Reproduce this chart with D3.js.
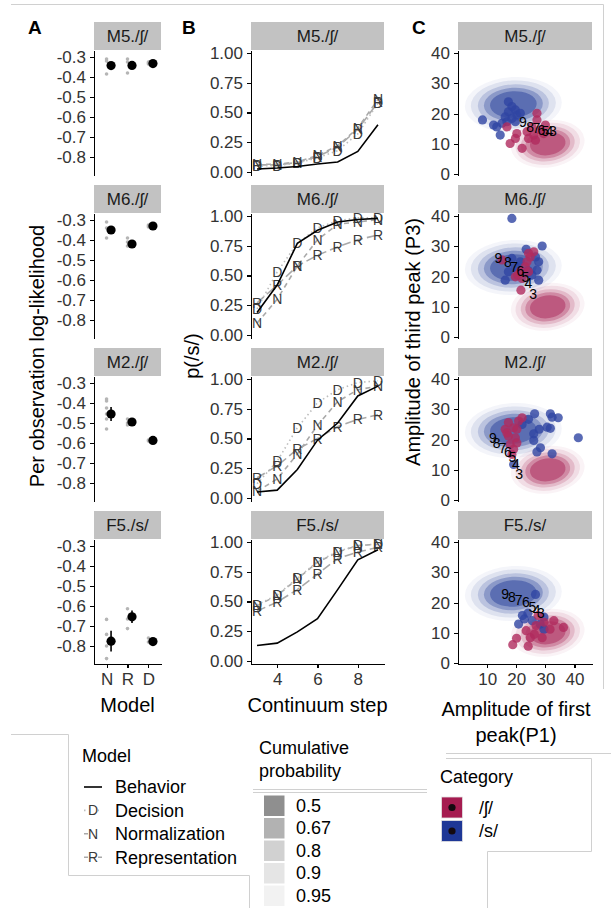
<!DOCTYPE html>
<meta charset="utf-8">
<title>Model comparison, categorization curves and cue distributions</title>
<style>
body{margin:0;background:#fff;}
svg text{font-family:'Liberation Sans',Arial,sans-serif;}
.axis path,.axis line{stroke:#000;stroke-width:1.1px;shape-rendering:crispEdges;}
.axis text{font-size:17px;fill:#333;}
.strip text{font-size:17px;fill:#1a1a1a;text-anchor:middle;}
.title{font-size:20px;fill:#000;text-anchor:middle;}
.tag{font-size:19px;font-weight:bold;fill:#000;}
.leg{font-size:18px;fill:#000;}
.frame{stroke:#d0d0d0;stroke-width:1;fill:none;}
</style>
<svg width="611" height="908"></svg>
<script src="https://d3js.org/d3.v7.min.js"></script>
<script>
var talkers = ["M5./ʃ/", "M6./ʃ/", "M2./ʃ/", "F5./s/"];
var models = ["N", "R", "D"];
var steps = [3, 4, 5, 6, 7, 8, 9];

// A: per observation log-likelihood (mean, se, per-subject values) in order N, R, D
var llMean = [[-0.343, -0.342, -0.333], [-0.35, -0.42, -0.33], [-0.455, -0.495, -0.587], [-0.776, -0.654, -0.778]];
var llSe = [[0.01, 0.01, 0.003], [0.012, 0.008, 0.003], [0.035, 0.008, 0.004], [0.052, 0.031, 0.006]];
var llSubj = [
  [[-0.31, -0.32, -0.385], [-0.31, -0.325, -0.38], [-0.325, -0.33, -0.335]],
  [[-0.31, -0.34, -0.39], [-0.39, -0.41, -0.43], [-0.325, -0.33, -0.335]],
  [[-0.38, -0.39, -0.425, -0.455, -0.48, -0.53], [-0.48, -0.5, -0.51], [-0.585, -0.59]],
  [[-0.667, -0.742, -0.8, -0.863], [-0.614, -0.665, -0.713], [-0.76, -0.78]]
];
var llTicks = [-0.3, -0.4, -0.5, -0.6, -0.7, -0.8];

// B: p(/s/) by continuum step
var behavior = [
  [0.025, 0.034, 0.047, 0.067, 0.084, 0.173, 0.397],
  [0.19, 0.42, 0.77, 0.88, 0.95, 0.97, 0.98],
  [0.05, 0.066, 0.24, 0.486, 0.63, 0.857, 0.94],
  [0.13, 0.15, 0.245, 0.355, 0.6, 0.85, 0.935]
];
var predD = [
  [0.05, 0.055, 0.075, 0.12, 0.18, 0.32, 0.58],
  [0.22, 0.53, 0.77, 0.9, 0.96, 0.985, 0.985],
  [0.12, 0.31, 0.59, 0.8, 0.91, 0.97, 0.985],
  [0.472, 0.555, 0.695, 0.835, 0.92, 0.972, 0.982]
];
var predN = [
  [0.065, 0.065, 0.085, 0.14, 0.22, 0.37, 0.61],
  [0.1, 0.3, 0.58, 0.8, 0.93, 0.95, 0.97],
  [0.057, 0.16, 0.37, 0.61, 0.81, 0.91, 0.94],
  [0.465, 0.55, 0.69, 0.83, 0.915, 0.97, 0.98]
];
var predR = [
  [0.06, 0.06, 0.08, 0.13, 0.21, 0.36, 0.585],
  [0.27, 0.42, 0.58, 0.67, 0.74, 0.8, 0.84],
  [0.17, 0.27, 0.41, 0.5, 0.6, 0.66, 0.7],
  [0.42, 0.495, 0.6, 0.73, 0.86, 0.915, 0.955]
];
var pTicks = [0, 0.25, 0.5, 0.75, 1];
var stepTicks = [4, 6, 8];

// C: talker productions (P1, P3) per category and the continuum steps 3..9
var ptsS = [
  [[8.4,17.9],[12.2,16.2],[13.3,15.6],[14.5,12.9],[17.3,23.9],[18.5,22.3],[17.3,20.6],[19.7,21.2],[20.2,19.5],[21.4,20.1],[16.2,18.9],[18.5,18.4],[16.8,17.3],[15.1,16.8],[19.7,17.3]],
  [[18.5,39.2],[28.9,30.1],[23.4,29],[16.2,18.8],[27.7,24.9],[27.1,22.1],[27.7,18.8],[25.4,20.5],[18.5,26],[19.7,23.2],[17.3,21.6],[21.4,24.9],[26.6,26.5],[24,22]],
  [[26.3,28.5],[31.7,28.5],[32.3,27.4],[34.4,27.2],[41.3,20.6],[24.2,26.7],[22,25],[27.9,23.4],[30.6,24.1],[31.7,23.7],[26,21.9],[26,19.7],[28.3,17.3],[27.1,15.9],[32.3,15.3],[19.1,11.8]],
  [[20.8,12.9],[22.8,14.6],[22.1,15.7],[25.5,14],[28.2,12.9],[29.5,15.2],[29.5,11.2],[26.6,22.7],[24,16.5]]
];
var ptsSh = [
  [[16.8,15.6],[20.2,13.4],[17.9,10.1],[22,8.5],[27.1,20.1],[23.7,14],[25.4,15.6],[27.1,17.9],[30,16.2],[26,12.9],[28.3,14.5],[24.2,11.8],[29.4,13.4],[26.6,11.2],[19.7,11.8]],
  [[26,28.2],[24.8,26.5],[23.7,24.9],[23.1,23.2],[21.4,21.6],[19.7,19.9],[22,19.4],[24.2,21.6],[21.6,15.5],[15.1,25.5],[24.2,27.7],[20.5,20.5]],
  [[17.3,25.6],[19.1,23.9],[16.2,23.4],[17.3,21.2],[20.8,26.1],[22,27.2],[19.7,20.6],[17.9,18.4],[20.2,18.9],[19.1,16.8],[16.8,22.2],[20.2,23.4],[18.5,15.1]],
  [[18.8,6.1],[20.1,8.2],[24.1,5.6],[23.4,10.7],[26.2,9.5],[28.9,8.4],[29.5,13.5],[32.9,14],[36.2,11.8],[26.8,12.4],[31.6,11.2],[27.5,15.7],[24.8,8.4]]
];
var stepPos = [
  [[32.6,14.3],[31.4,14.3],[30,14.3],[28.6,14.5],[26.9,15.1],[24.8,15.6],[22.3,17.3]],
  [[25.8,14.1],[24.2,17.8],[23.1,19.9],[21.4,21.9],[19.3,23.2],[17.1,24.9],[13.9,26]],
  [[21,8.5],[19.9,11.8],[18.7,14.2],[17.1,16],[15.3,17.3],[13.3,18.9],[12,20.6]],
  [[28.5,16.5],[27,17.5],[25.5,18.5],[23.3,20.3],[20.8,20.8],[18.5,21.9],[16.2,23]]
];
var categories = ["/ʃ/", "/s/"];
var catMean = [[30.8, 10], [19, 23]];
var catSd = [[5.2, 3.2], [6.8, 3.7]];
var catTilt = [-8, -3];
var cumProb = [0.5, 0.67, 0.8, 0.9, 0.95];
var cumAlpha = [0.44, 0.3, 0.18, 0.1, 0.05];
var ampTicksY = [0, 10, 20, 30, 40];
var ampTicksX = [10, 20, 30, 40];

var modelNames = ["Behavior", "Decision", "Normalization", "Representation"];

var svg = d3.select("svg");
var catColor = d3.scaleOrdinal().domain(categories).range(["#a51c50", "#1e3796"]);
var ptColor = d3.scaleOrdinal().domain(categories).range(["#b02a5e", "#2f45a2"]);
var alphaOf = d3.scaleOrdinal().domain(cumProb).range(cumAlpha);
var lineStyle = {
  D: {stroke: "#bdbdbd", dash: "1.5,3"},
  N: {stroke: "#a9a9a9", dash: "5,4"},
  R: {stroke: "#a9a9a9", dash: "9,4"}
};

var xA = d3.scalePoint().domain(models).range([94, 161]).padding(0.6);
var xB = d3.scaleLinear().domain([2.7, 9.3]).range([251, 384]);
var xC = d3.scaleLinear().domain([0, 46]).range([458, 592]);

function strip(x0, x1, top, label) {
  var g = svg.append("g").attr("class", "strip");
  g.append("rect").attr("x", x0).attr("y", top).attr("width", x1 - x0).attr("height", 28).attr("fill", "#c2c2c2");
  g.append("text").attr("x", (x0 + x1) / 2).attr("y", top + 14).attr("dy", "0.36em").text(label);
}

talkers.forEach(function(t, i) {
  var top = 22 + 163 * i, pTop = top + 28, pBot = pTop + 125;
  var last = i === talkers.length - 1;

  // ---- A
  var yA = d3.scaleLinear().domain([-0.89, -0.265]).range([pBot, pTop]);
  strip(94, 161, top, t);
  svg.append("g").attr("class", "axis").attr("transform", "translate(94,0)")
    .call(d3.axisLeft(yA).tickValues(llTicks).tickSize(4).tickPadding(4).tickSizeOuter(0)
      .tickFormat(function(d) { return d.toFixed(1); }));
  models.forEach(function(m, k) {
    svg.append("g").selectAll("circle").data(llSubj[i][k]).enter().append("circle")
      .attr("cx", xA(m)).attr("cy", function(d) { return yA(d); })
      .attr("r", 1.8).attr("fill", "#b5b5b5");
    svg.append("line")
      .attr("x1", xA(m) + 4.5).attr("x2", xA(m) + 4.5)
      .attr("y1", yA(llMean[i][k] - llSe[i][k])).attr("y2", yA(llMean[i][k] + llSe[i][k]))
      .attr("stroke", "#000").attr("stroke-width", 1.6);
    svg.append("circle").attr("cx", xA(m) + 4.5).attr("cy", yA(llMean[i][k]))
      .attr("r", 4.6).attr("fill", "#000");
  });
  if (last) {
    svg.append("g").attr("class", "axis").attr("transform", "translate(0," + pBot + ")")
      .call(d3.axisBottom(xA).tickSize(4).tickPadding(5).tickSizeOuter(0));
  }

  // ---- B
  var yB = d3.scaleLinear().domain([-0.025, 1.025]).range([pBot, pTop]);
  strip(251, 384, top, t);
  svg.append("g").attr("class", "axis").attr("transform", "translate(251,0)")
    .call(d3.axisLeft(yB).tickValues(pTicks).tickSize(4).tickPadding(4).tickSizeOuter(0)
      .tickFormat(function(d) { return d.toFixed(2); }));
  if (last) {
    svg.append("g").attr("class", "axis").attr("transform", "translate(0," + pBot + ")")
      .call(d3.axisBottom(xB).tickValues(stepTicks).tickSize(4).tickPadding(5).tickSizeOuter(0)
        .tickFormat(d3.format("d")));
  }
  var line = d3.line().x(function(d, j) { return xB(steps[j]); }).y(function(d) { return yB(d); });
  var preds = {D: predD[i], N: predN[i], R: predR[i]};
  ["R", "N", "D"].forEach(function(m) {
    svg.append("path").attr("d", line(preds[m])).attr("fill", "none")
      .attr("stroke", lineStyle[m].stroke).attr("stroke-width", 1.6)
      .attr("stroke-dasharray", lineStyle[m].dash);
  });
  ["R", "N", "D"].forEach(function(m) {
    svg.append("g").selectAll("text").data(preds[m]).enter().append("text")
      .attr("x", function(d, j) { return xB(steps[j]); })
      .attr("y", function(d) { return yB(d); })
      .attr("dy", "0.36em").attr("text-anchor", "middle")
      .attr("font-size", 14).attr("fill", "#3a3a3a").text(m);
  });
  svg.append("path").attr("d", line(behavior[i])).attr("fill", "none")
    .attr("stroke", "#000").attr("stroke-width", 1.6);

  // ---- C
  var yC = d3.scaleLinear().domain([-0.3, 41]).range([pBot, pTop]);
  strip(458, 592, top, t);
  svg.append("g").attr("class", "axis").attr("transform", "translate(458,0)")
    .call(d3.axisLeft(yC).tickValues(ampTicksY).tickSize(4).tickPadding(4).tickSizeOuter(0));
  if (last) {
    svg.append("g").attr("class", "axis").attr("transform", "translate(0," + pBot + ")")
      .call(d3.axisBottom(xC).tickValues(ampTicksX).tickSize(4).tickPadding(5).tickSizeOuter(0));
  }
  categories.forEach(function(c, k) {
    var cx = xC(catMean[k][0]), cy = yC(catMean[k][1]);
    cumProb.slice().reverse().forEach(function(p) {
      var r = Math.sqrt(-2 * Math.log(1 - p));
      svg.append("ellipse")
        .attr("cx", cx).attr("cy", cy)
        .attr("rx", xC(catMean[k][0] + r * catSd[k][0]) - cx)
        .attr("ry", cy - yC(catMean[k][1] + r * catSd[k][1]))
        .attr("transform", "rotate(" + catTilt[k] + "," + cx + "," + cy + ")")
        .attr("fill", catColor(c)).attr("fill-opacity", alphaOf(p));
    });
  });
  [[ptsS[i], "/s/"], [ptsSh[i], "/ʃ/"]].forEach(function(set) {
    svg.append("g").selectAll("circle").data(set[0]).enter().append("circle")
      .attr("cx", function(d) { return xC(d[0]); })
      .attr("cy", function(d) { return yC(d[1]); })
      .attr("r", 4.6).attr("fill", ptColor(set[1])).attr("fill-opacity", 0.8);
  });
  svg.append("g").selectAll("text").data(stepPos[i]).enter().append("text")
    .attr("x", function(d) { return xC(d[0]); })
    .attr("y", function(d) { return yC(d[1]); })
    .attr("dy", "0.36em").attr("text-anchor", "middle")
    .attr("font-size", 14).attr("fill", "#000")
    .text(function(d, j) { return steps[j]; });
});

// panel tags and axis titles
svg.append("text").attr("class", "tag").attr("x", 28).attr("y", 34).text("A");
svg.append("text").attr("class", "tag").attr("x", 182).attr("y", 34).text("B");
svg.append("text").attr("class", "tag").attr("x", 412).attr("y", 34).text("C");

svg.append("text").attr("class", "title").attr("transform", "translate(37,356) rotate(-90)")
  .attr("dy", "0.36em").text("Per observation log-likelihood");
svg.append("text").attr("class", "title").attr("transform", "translate(192,356) rotate(-90)")
  .attr("dy", "0.36em").text("p(/s/)");
svg.append("text").attr("class", "title").attr("transform", "translate(413,342) rotate(-90)")
  .attr("dy", "0.36em").text("Amplitude of third peak (P3)");
svg.append("text").attr("class", "title").attr("x", 127.5).attr("y", 712).text("Model");
svg.append("text").attr("class", "title").attr("x", 317.5).attr("y", 712).text("Continuum step");
svg.append("text").attr("class", "title").attr("x", 516).attr("y", 716).text("Amplitude of first");
svg.append("text").attr("class", "title").attr("x", 516).attr("y", 742).text("peak(P1)");

// frame lines left over from the composed figure
var frames = [
  [11, 4.5, 603.5, 4.5], [603.5, 4.5, 603.5, 689],
  [11, 734.5, 68.5, 734.5], [68.5, 734.5, 68.5, 875.5], [68.5, 875.5, 249.5, 875.5], [249.5, 875.5, 249.5, 908],
  [253, 789.5, 427, 789.5], [253, 792.5, 427, 792.5],
  [446, 753.5, 611, 753.5], [446, 758.5, 591.5, 758.5], [591.5, 758.5, 591.5, 851.5],
  [487.5, 851.5, 591.5, 851.5], [487.5, 851.5, 487.5, 908]
];
svg.append("g").selectAll("line").data(frames).enter().append("line").attr("class", "frame")
  .attr("x1", function(d) { return d[0]; }).attr("y1", function(d) { return d[1]; })
  .attr("x2", function(d) { return d[2]; }).attr("y2", function(d) { return d[3]; });

// legend: Model
var lm = svg.append("g");
lm.append("text").attr("class", "leg").attr("x", 82).attr("y", 762).attr("font-size", 20).text("Model");
modelNames.forEach(function(name, k) {
  var cy = 787 + k * 23.4;
  var key = name === "Behavior" ? null : name.charAt(0);
  lm.append("line").attr("x1", 84).attr("x2", 102).attr("y1", cy).attr("y2", cy)
    .attr("stroke", key ? lineStyle[key].stroke : "#000").attr("stroke-width", 1.6)
    .attr("stroke-dasharray", key ? lineStyle[key].dash : null);
  if (key) {
    lm.append("rect").attr("x", 88).attr("y", cy - 6).attr("width", 10).attr("height", 12).attr("fill", "#fff");
    lm.append("text").attr("x", 93).attr("y", cy).attr("dy", "0.36em").attr("text-anchor", "middle")
      .attr("font-size", 14).attr("fill", "#3a3a3a").text(key);
  }
  lm.append("text").attr("class", "leg").attr("x", 115).attr("y", cy).attr("dy", "0.36em").text(name);
});

// legend: Cumulative probability
var lc = svg.append("g");
lc.append("text").attr("class", "leg").attr("x", 259).attr("y", 754).attr("font-size", 20).text("Cumulative");
lc.append("text").attr("class", "leg").attr("x", 259).attr("y", 777).attr("font-size", 20).text("probability");
cumProb.forEach(function(p, k) {
  var top = 795.5 + k * 22.5;
  lc.append("rect").attr("x", 264).attr("y", top).attr("width", 20.5).attr("height", 20.5)
    .attr("fill", "#000").attr("fill-opacity", alphaOf(p));
  lc.append("text").attr("class", "leg").attr("x", 296).attr("y", top + 10).attr("dy", "0.36em").text(p);
});

// legend: Category
var lk = svg.append("g");
lk.append("text").attr("class", "leg").attr("x", 440).attr("y", 783).attr("font-size", 20).text("Category");
categories.forEach(function(c, k) {
  var top = 797 + k * 23.5;
  lk.append("rect").attr("x", 441.5).attr("y", top).attr("width", 21).attr("height", 21)
    .attr("fill", catColor(c)).attr("stroke", "#e3e3e3").attr("stroke-width", 0.8);
  lk.append("circle").attr("cx", 452).attr("cy", top + 10.5).attr("r", 3.6).attr("fill", "#140a10");
  lk.append("text").attr("class", "leg").attr("x", 479).attr("y", top + 10.5).attr("dy", "0.36em").text(c);
});
</script>
